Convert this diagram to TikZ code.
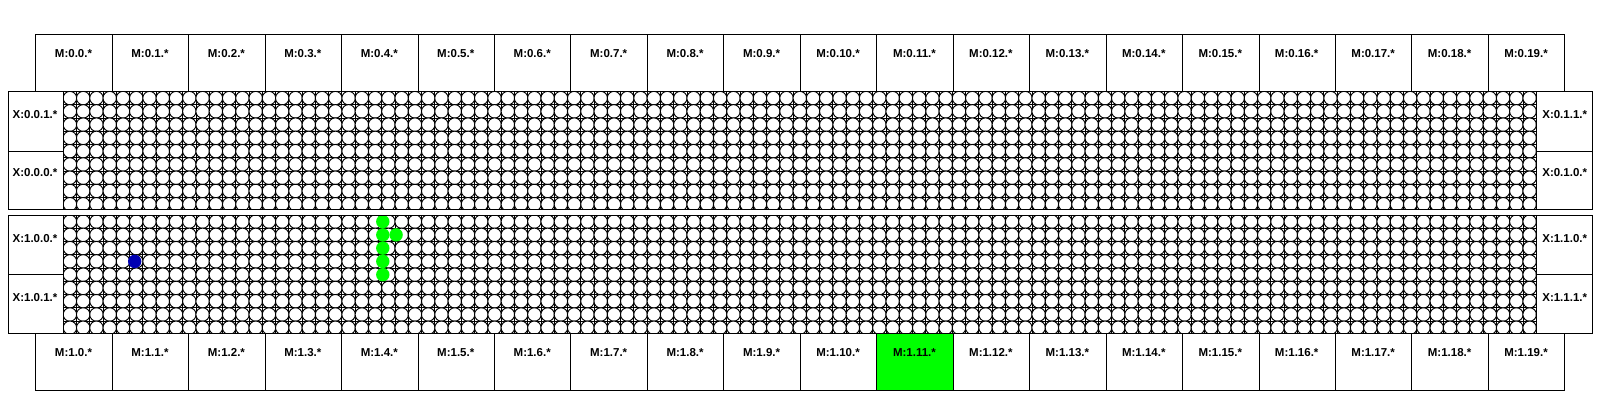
\documentclass[tikz,border=0pt]{standalone}
\usepackage{fontspec}
\setmainfont{Liberation Sans}
\tikzset{
  frame/.style={line width=0.8pt},
  lbl/.style={font=\bfseries\fontsize{11.5}{12}\selectfont,inner sep=0pt},
  qubit/.style={draw=black,line width=0.95pt,fill=white},
  active/.style={draw=none,fill=green},
  marked/.style={draw=none,fill=blue!70!black}
}
\begin{document}
\begin{tikzpicture}[x=1pt,y=-1pt]
\useasboundingbox (0,0) rectangle (1600,400);
\fill[white] (0,0) rectangle (1600,400);
\fill[green] (35.7+76.45*11,333.5) rectangle (35.7+76.45*12,390.3);
% memory banks, top and bottom
\foreach \i in {0,...,19}{
  \pgfmathsetmacro{\xa}{35.7+76.45*\i}
  \pgfmathsetmacro{\xb}{\xa+76.45}
  \draw[frame] (\xa,34.3) rectangle (\xb,91.5);
  \node[lbl] (mt\i) at ({\xa+37.8},53.3) {M:0.\i.*};
  \draw[frame] (\xa,333.5) rectangle (\xb,390.3);
  \node[lbl] (mb\i) at ({\xa+37.8},352.5) {M:1.\i.*};
}
% site lattice
\begin{scope}
\clip (63.3,91.5) rectangle (1536.7,209) (63.3,215) rectangle (1536.7,333.5);
\foreach \y in {91.5,104.77,...,210}{
  \draw[line width=1pt] (63.3,\y) -- (1536.7,\y);
}
\foreach \y in {215,228.27,...,334}{
  \draw[line width=1pt] (63.3,\y) -- (1536.7,\y);
}
\foreach \x in {63.3,76.57,...,1537}{
  \draw[line width=1pt] (\x,91.5) -- (\x,333.5);
}
\foreach \x in {63.3,76.57,...,1537}{
  \foreach \y in {98.1,111.37,...,210}{
    \draw[qubit] (\x+6.63,\y) circle (6.75);
  }
  \foreach \y in {221.6,234.87,...,334}{
    \draw[qubit] (\x+6.63,\y) circle (6.75);
  }
}
\foreach \x/\y in {382.8/221.6,382.8/234.87,396.1/234.87,382.8/248.14,382.8/261.41,382.8/274.68}{
  \fill[active] (\x,\y) circle (6.7);
}
\fill[marked] (134.7,261.41) circle (6.7);
\end{scope}
% block frames and side boxes
\foreach \n/\xa/\xb/\tx in {0/8.5/63.3/35,1/1536.7/1592.7/1564.7}{
  \draw[frame] (\xa,91.5) rectangle (\xb,151);
  \draw[frame] (\xa,151) rectangle (\xb,209);
  \draw[frame] (\xa,215) rectangle (\xb,274);
  \draw[frame] (\xa,274) rectangle (\xb,333.5);
  \node[lbl] (xa\n) at (\tx,114.5) {X:0.\n.1.*};
  \node[lbl] (xb\n) at (\tx,172.5) {X:0.\n.0.*};
  \node[lbl] (xc\n) at (\tx,238.5) {X:1.\n.0.*};
  \node[lbl] (xd\n) at (\tx,298) {X:1.\n.1.*};
}
\draw[frame] (63.3,91.5) rectangle (1536.7,209);
\draw[frame] (63.3,215) rectangle (1536.7,333.5);
\end{tikzpicture}
\end{document}
